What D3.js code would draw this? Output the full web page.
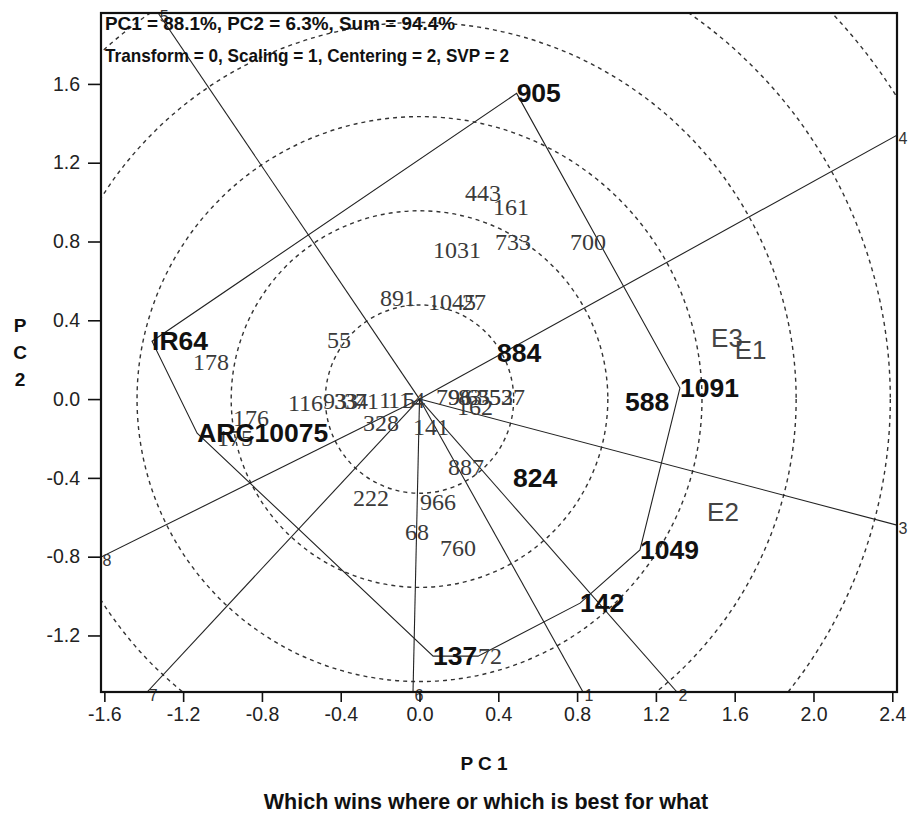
<!DOCTYPE html>
<html>
<head>
<meta charset="utf-8">
<script src="https://cdn.jsdelivr.net/npm/d3@7"></script>
<style>
  html, body { margin: 0; padding: 0; background: #ffffff; }
  svg { display: block; }
</style>
</head>
<body>
<svg id="chart" width="909" height="822"></svg>
<script>
// ---------------- DATA ----------------
const xTickValues = [-1.6, -1.2, -0.8, -0.4, 0.0, 0.4, 0.8, 1.2, 1.6, 2.0, 2.4];
const xTickLabels = ["-1.6", "-1.2", "-0.8", "-0.4", "0.0", "0.4", "0.8", "1.2", "1.6", "2.0", "2.4"];
const yTickValues = [-1.2, -0.8, -0.4, 0.0, 0.4, 0.8, 1.2, 1.6];
const yTickLabels = ["-1.2", "-0.8", "-0.4", "0.0", "0.4", "0.8", "1.2", "1.6"];

// genotypes (label anchor = genotype point)
const genoNames = ["905", "1091", "1049", "142", "72", "137", "ARC10075", "IR64",
  "884", "588", "824",
  "443", "161", "733", "700", "1031", "891", "1045", "27", "55", "178", "176", "175",
  "116", "93", "33", "34", "71", "1", "11", "5", "4",
  "79", "96", "83", "65", "35", "52", "37", "162",
  "328", "141", "887", "222", "966", "68", "760"];
const genoPC1 = [0.493, 1.322, 1.119, 0.815, 0.297, 0.069, -1.129, -1.358,
  0.393, 1.043, 0.475,
  0.231, 0.373, 0.383, 0.764, 0.069, -0.201, 0.043, 0.216, -0.470, -1.150, -0.947, -1.028,
  -0.668, -0.490, -0.434, -0.383, -0.327, -0.206, -0.160, -0.084, -0.033,
  0.084, 0.145, 0.195, 0.236, 0.292, 0.353, 0.414, 0.190,
  -0.287, -0.033, 0.145, -0.338, 0.003, -0.074, 0.104];
const genoPC2 = [1.552, 0.056, -0.766, -1.036, -1.305, -1.305, -0.173, 0.294,
  0.234, -0.015, -0.401,
  1.046, 0.975, 0.797, 0.797, 0.756, 0.513, 0.492, 0.492, 0.299, 0.188, -0.096, -0.200,
  -0.020, -0.010, -0.010, -0.010, -0.010, -0.005, -0.005, -0.005, -0.005,
  0.010, 0.010, 0.010, 0.010, 0.010, 0.010, 0.010, -0.041,
  -0.122, -0.142, -0.345, -0.503, -0.523, -0.675, -0.756];
const highlighted = ["905", "1091", "1049", "142", "137", "ARC10075", "IR64", "884", "588", "824"];

// polygon (convex hull) vertices, in drawing order
const hullOrder = ["905", "1091", "1049", "142", "72", "137", "ARC10075", "IR64"];

// rays from the origin, perpendicular to the polygon sides (end points)
const rayLabels = ["1", "2", "3", "4", "5", "6", "7", "8"];
const rayPC1 = [0.830, 1.307, 2.424, 2.424, -1.327, -0.033, -1.383, -1.617];
const rayPC2 = [-1.487, -1.487, -0.640, 1.340, 1.960, -1.487, -1.487, -0.802];

// environment markers
const envNames = ["E3", "E1", "E2"];
const envPC1 = [1.48, 1.60, 1.46];
const envPC2 = [0.310, 0.250, -0.575];

// concentric rings
const ringRadii = [0.478, 0.956, 1.434, 1.912, 2.390, 2.868];

const headerLines = ["PC1 = 88.1%, PC2 = 6.3%, Sum = 94.4%",
                     "Transform = 0, Scaling = 1, Centering = 2, SVP = 2"];
const headerWidths = [350, 404];
const xTitle = "P C 1";
const yTitleLetters = ["P", "C", "2"];
const chartTitle = "Which wins where or which is best for what";

// ---------------- LAYOUT ----------------
const svg = d3.select("#chart");
const L = 101, R = 897, T = 13, B = 692;
const x = d3.scaleLinear().domain([-1.617, 2.424]).range([L, R]);
const y = d3.scaleLinear().domain([-1.487, 1.960]).range([B, T]);
const unit = x(1) - x(0);
const sans = "'Liberation Sans', Arial, sans-serif";

svg.append("defs").append("clipPath").attr("id", "plotclip")
  .append("rect").attr("x", L).attr("y", T).attr("width", R - L).attr("height", B - T);

const plot = svg.append("g").attr("clip-path", "url(#plotclip)");

// rings
plot.selectAll("circle.ring").data(ringRadii).join("circle")
  .attr("class", "ring")
  .attr("cx", x(0)).attr("cy", y(0))
  .attr("r", d => d * unit)
  .attr("fill", "none")
  .attr("stroke", "#333")
  .attr("stroke-width", 1.4)
  .attr("stroke-dasharray", "4,4");

// rays
const rays = rayLabels.map((l, i) => ({ label: l, px: rayPC1[i], py: rayPC2[i] }));
plot.selectAll("line.ray").data(rays).join("line")
  .attr("class", "ray")
  .attr("x1", x(0)).attr("y1", y(0))
  .attr("x2", d => x(d.px)).attr("y2", d => y(d.py))
  .attr("stroke", "#222").attr("stroke-width", 1.1);

// polygon
const geno = genoNames.map((n, i) => ({ name: n, px: genoPC1[i], py: genoPC2[i] }));
const byName = new Map(geno.map(g => [g.name, g]));
const hullPts = hullOrder.map(n => byName.get(n));
plot.append("path")
  .attr("d", d3.line().x(d => x(d.px)).y(d => y(d.py))(hullPts) + "Z")
  .attr("fill", "none").attr("stroke", "#222").attr("stroke-width", 1.1);

// genotype labels (normal first, then highlighted on top)
const normal = geno.filter(g => !highlighted.includes(g.name));
const bold = geno.filter(g => highlighted.includes(g.name));
svg.append("g").selectAll("text").data(normal).join("text")
  .attr("x", d => x(d.px)).attr("y", d => y(d.py))
  .attr("dominant-baseline", "central")
  .attr("font-family", "'Liberation Serif', 'Times New Roman', serif")
  .attr("font-size", 24)
  .attr("fill", "#3a3a3a")
  .text(d => d.name);
svg.append("g").selectAll("text").data(bold).join("text")
  .attr("x", d => x(d.px)).attr("y", d => y(d.py))
  .attr("dominant-baseline", "central")
  .attr("font-family", sans)
  .attr("font-weight", "bold")
  .attr("font-size", 26.5)
  .attr("fill", "#111")
  .text(d => d.name);

// environment labels
svg.append("g").selectAll("text").data(envNames.map((n, i) => ({ name: n, px: envPC1[i], py: envPC2[i] }))).join("text")
  .attr("x", d => x(d.px)).attr("y", d => y(d.py))
  .attr("dominant-baseline", "central")
  .attr("font-family", sans)
  .attr("font-size", 26)
  .attr("fill", "#444")
  .text(d => d.name);

// ray labels
svg.append("g").selectAll("text").data(rays).join("text")
  .attr("x", d => x(d.px) + 6).attr("y", d => y(d.py) + 3)
  .attr("text-anchor", "middle")
  .attr("dominant-baseline", "central")
  .attr("font-family", sans)
  .attr("font-size", 16)
  .attr("fill", "#333")
  .text(d => d.label);

// frame
svg.append("rect").attr("x", L).attr("y", T).attr("width", R - L).attr("height", B - T)
  .attr("fill", "none").attr("stroke", "#111").attr("stroke-width", 2.2);

// axes
const xAxis = svg.append("g").attr("transform", `translate(0,${B})`)
  .call(d3.axisBottom(x).tickValues(xTickValues).tickFormat((d, i) => xTickLabels[i])
    .tickSize(10).tickSizeOuter(0).tickPadding(5));
const yAxis = svg.append("g").attr("transform", `translate(${L},0)`)
  .call(d3.axisLeft(y).tickValues(yTickValues).tickFormat((d, i) => yTickLabels[i])
    .tickSize(13).tickSizeOuter(0).tickPadding(8));
[xAxis, yAxis].forEach(a => {
  a.select(".domain").remove();
  a.selectAll(".tick line").attr("stroke", "#111").attr("stroke-width", 1.6);
  a.selectAll(".tick text").attr("font-family", sans)
    .attr("font-size", 19.5).attr("fill", "#222");
});

// header
svg.append("g").selectAll("text").data(headerLines).join("text")
  .attr("x", 105).attr("y", (d, i) => 23 + i * 32)
  .attr("dominant-baseline", "central")
  .attr("font-family", sans)
  .attr("font-weight", "bold").attr("font-size", 18.5).attr("fill", "#111")
  .attr("textLength", (d, i) => headerWidths[i])
  .attr("lengthAdjust", "spacingAndGlyphs")
  .text(d => d);

// axis titles
svg.append("text").attr("x", 484).attr("y", 763)
  .attr("text-anchor", "middle").attr("dominant-baseline", "central")
  .attr("font-family", sans)
  .attr("font-weight", "bold").attr("font-size", 19).attr("fill", "#111")
  .text(xTitle);
svg.append("g").selectAll("text").data(yTitleLetters).join("text")
  .attr("x", 20).attr("y", (d, i) => 325 + i * 27)
  .attr("text-anchor", "middle").attr("dominant-baseline", "central")
  .attr("font-family", sans)
  .attr("font-weight", "bold").attr("font-size", 19).attr("fill", "#111")
  .text(d => d);
svg.append("text").attr("x", 486).attr("y", 802)
  .attr("text-anchor", "middle").attr("dominant-baseline", "central")
  .attr("font-family", sans)
  .attr("font-weight", "bold").attr("font-size", 21.5).attr("fill", "#111")
  .text(chartTitle);
</script>
</body>
</html>
